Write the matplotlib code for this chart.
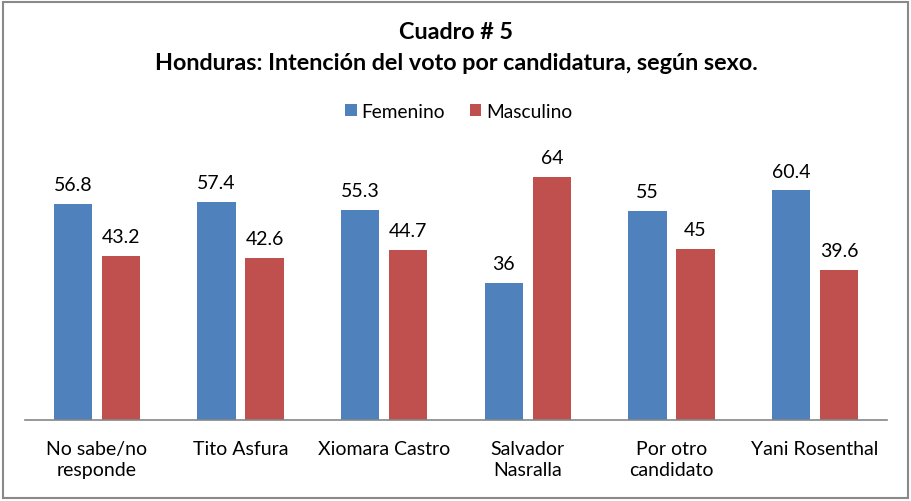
import matplotlib.pyplot as plt
import numpy as np
from matplotlib.patches import Rectangle

plt.rcParams['font.family'] = ['Lato', 'DejaVu Sans']

# Data
categories = ['No sabe/no\nresponde', 'Tito Asfura', 'Xiomara Castro',
              'Salvador\nNasralla', 'Por otro\ncandidato', 'Yani Rosenthal']
femenino = [56.8, 57.4, 55.3, 36, 55, 60.4]
masculino = [43.2, 42.6, 44.7, 64, 45, 39.6]
fem_labels = ['56.8', '57.4', '55.3', '36', '55', '60.4']
mas_labels = ['43.2', '42.6', '44.7', '64', '45', '39.6']

blue = '#4F81BD'
red = '#C0504D'

x = np.arange(len(categories))
width = 0.265
offset = 0.167

fig = plt.figure(figsize=(9.12, 5.02), dpi=100)
ax = fig.add_axes([0.0274, 0.1614, 0.9452, 0.5298])

b1 = ax.bar(x - offset, femenino, width, color=blue, label='Femenino')
b2 = ax.bar(x + offset, masculino, width, color=red, label='Masculino')

for bars, labels in ((b1, fem_labels), (b2, mas_labels)):
    for bar, lab in zip(bars, labels):
        ax.annotate(lab, (bar.get_x() + bar.get_width() / 2, bar.get_height()),
                    xytext=(0, 14), textcoords='offset points',
                    ha='center', va='center', fontsize=14)

ax.set_xlim(-0.5, len(categories) - 0.5)
ax.set_ylim(0, 70)
ax.set_yticks([])
ax.set_xticks(x)
ax.set_xticklabels(categories, fontsize=14, linespacing=1.3)
ax.tick_params(axis='x', length=0, pad=14.5)
for s in ['top', 'right', 'left']:
    ax.spines[s].set_visible(False)
ax.spines['bottom'].set_color('#868686')
ax.spines['bottom'].set_linewidth(1.2)

fig.text(0.5, 1 - 33 / 502, 'Cuadro # 5', ha='center', va='center',
         fontsize=16.8, fontweight='bold')
fig.text(0.5, 1 - 64 / 502,
         'Honduras: Intención del voto por candidatura, según sexo.',
         ha='center', va='center', fontsize=16.8, fontweight='bold')

fig.legend(handles=[b1, b2], loc='center', bbox_to_anchor=(0.503, 1 - 112 / 502),
           ncol=2, frameon=False, fontsize=13.8, handlelength=0.6,
           handleheight=0.6, handletextpad=0.25, columnspacing=1.3)

fig.patches.append(Rectangle((0.003, 0.005), 0.993, 0.99, transform=fig.transFigure,
                             fill=False, edgecolor='#898989', linewidth=1.5))

fig.savefig('out.png', dpi=100)
